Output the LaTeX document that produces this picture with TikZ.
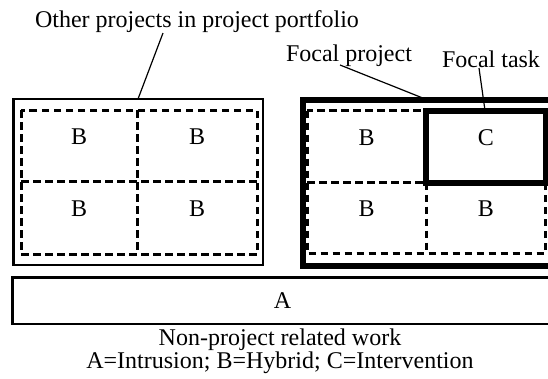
\documentclass[tikz,border=0pt]{standalone}
\usepackage{fontspec}
\setmainfont{Liberation Serif}
\begin{document}
\begin{tikzpicture}[x=1pt,y=-1pt,
  every node/.style={inner sep=0pt,outer sep=0pt,font=\fontsize{24}{29}\selectfont},
  thinbox/.style={draw,line width=2.8pt,anchor=north west},
  thickbox/.style={draw,line width=6pt,anchor=north west},
  cellbox/.style={anchor=north west,text height=16pt,text depth=19pt},
  grid/.style={line width=3pt,dash pattern=on 7.5pt off 4.5pt},
  taskbox/.style={draw,line width=6pt,anchor=north west,text height=16pt,text depth=19pt},
  lbl/.style={anchor=base west},
  leader/.style={draw,line width=1.2pt}]
\useasboundingbox (0,0) rectangle (548,378);
\clip (0,0) rectangle (548,378);
% other projects
\node[thinbox,minimum width=249.7pt,minimum height=166pt] (L) at (13.3,99) {};
\node[cellbox,minimum width=116.3pt,minimum height=71.7pt] (L11) at (21,110) {B};
\node[cellbox,minimum width=119.7pt,minimum height=71.7pt] (L12) at (137.3,110) {B};
\node[cellbox,minimum width=116.3pt,minimum height=72.3pt] (L21) at (21,181.7) {B};
\node[cellbox,minimum width=119.7pt,minimum height=72.3pt] (L22) at (137.3,181.7) {B};
\draw[grid] (L11.north west) rectangle (L22.south east);
\draw[grid] (L11.south west) -- (L12.south east);
\draw[grid] (L11.north east) -- (L21.south east);
% focal project
\node[thickbox,minimum width=250pt,minimum height=166.3pt] (R) at (302.5,99.7) {};
\node[cellbox,minimum width=118.7pt,minimum height=72pt] (R11) at (307.3,110.7) {B};
\node[cellbox,minimum width=118.7pt,minimum height=70.6pt] (R21) at (307.3,182.7) {B};
\node[cellbox,minimum width=119.5pt,minimum height=70.6pt] (R22) at (426,182.7) {B};
\draw[grid] (R11.north west) rectangle (R22.south east);
\draw[grid] (R21.north west) -- (R22.north east);
\draw[grid] (R21.north east) -- (R21.south east);
\node[taskbox,fill=white,minimum width=119.5pt,minimum height=72pt] (C) at (426,110.5) {C};
% non-project work
\node[thinbox,minimum width=540pt,minimum height=46.5pt,text height=16pt,text depth=0pt] (A) at (12.5,277.5) {A};
% labels
\node[lbl] (tOther) at (35,27) {Other projects in project portfolio};
\node[lbl] (tFP) at (286,61) {Focal project};
\node[lbl] (tFT) at (442,67) {Focal task};
\node[anchor=base] (tNP) at (280,345) {Non-project related work};
\node[anchor=base] (tLeg) at (280,368.5) {A=Intrusion; B=Hybrid; C=Intervention};
% leaders
\coordinate (oS) at (163,33);
\coordinate (oE) at (138,99);
\coordinate (fpS) at (340,65);
\coordinate (fpE) at (427,99.7);
\coordinate (ftS) at (479,68);
\coordinate (ftE) at (485,110.5);
\draw[leader] (oS) -- (oE);
\draw[leader] (fpS) -- (fpE);
\draw[leader] (ftS) -- (ftE);
\end{tikzpicture}
\end{document}
